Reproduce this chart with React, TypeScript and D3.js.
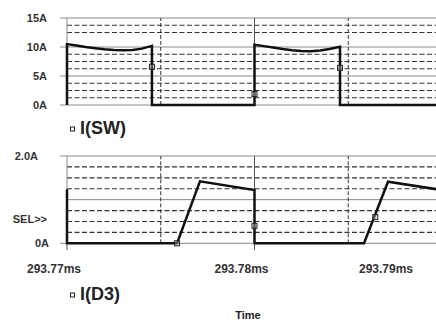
import React from "react";
import * as d3 from "d3";

const W = 436;
const H = 322;

// time in microseconds after 293.77ms
const swTime = [0, 0, 0.5, 1, 1.5, 2, 2.5, 3, 3.5, 4, 4.53, 4.53, 10, 10, 10.5, 11, 11.5, 12, 12.5, 13, 13.5, 14, 14.56, 14.56, 19.7];
const swCurrent = [0, 10.5, 10.25, 10.0, 9.8, 9.62, 9.5, 9.43, 9.48, 9.72, 10.2, 0, 0, 10.4, 10.15, 9.9, 9.65, 9.45, 9.32, 9.28, 9.38, 9.65, 10.05, 0, 0];

const d3Time = [0, 0, 5.87, 7.09, 10.0, 10.0, 15.84, 17.12, 19.7];
const d3Current = [1.24, 0, 0, 1.42, 1.22, 0, 0, 1.41, 1.24];

const swMarkT = [4.53, 10.0, 14.56];
const swMarkV = [6.6, 1.9, 6.4];
const d3MarkT = [5.87, 10.0, 16.44];
const d3MarkV = [0, 0.4, 0.6];

const xTickValues = [0, 10, 20];
const xTickLabels = ["293.77ms", "293.78ms", "293.79ms"];
const xGridSolid = [10];
const xGridDashed = [5, 15];

const topTicks = [15, 10, 5, 0];
const topTickLabels = ["15A", "10A", "5A", "0A"];
const topGridSolid = [15, 10, 5, 0];
const topGridDashed = [13.75, 12.5, 8.75, 7.5, 6.25, 3.75, 2.5, 1.25];

const botTicks = [2, 0];
const botTickLabels = ["2.0A", "0A"];
const botGridSolid = [2, 1, 0];
const botGridDashed = [1.75, 1.5, 1.25, 0.75, 0.5, 0.25];

const FONT = "'Liberation Sans', Arial, sans-serif";

export default function App() {
  const x = d3.scaleLinear().domain([0, 19.68]).range([67, 436]);
  const yTop = d3.scaleLinear().domain([0, 15]).range([105, 18]);
  const yBot = d3.scaleLinear().domain([0, 2]).range([243.3, 156]);

  const swLine = d3
    .line<number>()
    .x((_, i) => x(swTime[i]))
    .y((d) => yTop(d));
  const dLine = d3
    .line<number>()
    .x((_, i) => x(d3Time[i]))
    .y((d) => yBot(d));

  const gridColor = "#8a8a8a";
  const dashColor = "#333";

  const panel = (
    y: d3.ScaleLinear<number, number>,
    solid: number[],
    dashed: number[],
    key: string
  ) => {
    const [y0, y1] = [y.range()[0], y.range()[1]];
    return (
      <g key={key}>
        {dashed.map((v) => (
          <line key={"d" + v} x1={x(0)} x2={W} y1={y(v)} y2={y(v)} stroke={dashColor} strokeWidth={1.2} strokeDasharray="5 2.5" />
        ))}
        {solid.map((v) => (
          <line key={"s" + v} x1={x(0)} x2={W} y1={y(v)} y2={y(v)} stroke={gridColor} strokeWidth={1} />
        ))}
        {xGridDashed.map((v) => (
          <line key={"vd" + v} x1={x(v)} x2={x(v)} y1={y0} y2={y1} stroke={dashColor} strokeWidth={1} strokeDasharray="4 2" />
        ))}
        {xGridSolid.map((v) => (
          <line key={"vs" + v} x1={x(v)} x2={x(v)} y1={y0} y2={y1} stroke="#555" strokeWidth={1} />
        ))}
        <line x1={x(0)} x2={x(0)} y1={y0} y2={y1} stroke={gridColor} strokeWidth={1} />
      </g>
    );
  };

  return (
    <svg width={W} height={H} style={{ position: "absolute", left: 0, top: 0, background: "#fff" }} fontFamily={FONT}>
      <rect x={0} y={0} width={W} height={H} fill="#fff" />
      {panel(yTop, topGridSolid, topGridDashed, "top")}
      {panel(yBot, botGridSolid, botGridDashed, "bot")}

      {/* y ticks */}
      {topTicks.map((v, i) => (
        <g key={"tt" + v}>
          <line x1={60} x2={x(0)} y1={yTop(v)} y2={yTop(v)} stroke={gridColor} strokeWidth={1} />
          <text x={47} y={yTop(v)} dy="0.35em" textAnchor="end" fontSize={11} fontWeight="bold" fill="#333">
            {topTickLabels[i]}
          </text>
        </g>
      ))}
      {botTicks.map((v, i) => (
        <g key={"bt" + v}>
          <line x1={60} x2={x(0)} y1={yBot(v)} y2={yBot(v)} stroke={gridColor} strokeWidth={1} />
          <text x={v === 2 ? 38 : 49} y={yBot(v)} dy="0.35em" textAnchor="end" fontSize={11} fontWeight="bold" fill="#333">
            {botTickLabels[i]}
          </text>
        </g>
      ))}
      <text x={47} y={219} dy="0.35em" textAnchor="end" fontSize={11} fontWeight="bold" fill="#333">
        SEL&gt;&gt;
      </text>

      {/* x ticks */}
      {xTickValues.map((v, i) => (
        <g key={"xt" + v}>
          <line x1={x(v)} x2={x(v)} y1={yBot(0)} y2={250} stroke="#555" strokeWidth={1} />
          <text x={Math.min(x(v) + 14, W - 23)} y={273} textAnchor="end" fontSize={12} fontWeight="bold" fill="#333">
            {xTickLabels[i]}
          </text>
        </g>
      ))}

      {/* traces */}
      <path d={swLine(swCurrent) || ""} fill="none" stroke="#111" strokeWidth={2.5} strokeLinejoin="miter" />
      <path d={dLine(d3Current) || ""} fill="none" stroke="#111" strokeWidth={2.5} strokeLinejoin="miter" />

      {swMarkT.map((t, i) => (
        <rect key={"sm" + i} x={x(t) - 2.5} y={yTop(swMarkV[i]) - 2.5} width={5} height={5} fill="#bbb" fillOpacity={0.4} stroke="#222" strokeWidth={1} />
      ))}
      {d3MarkT.map((t, i) => (
        <rect key={"dm" + i} x={x(t) - 2.5} y={yBot(d3MarkV[i]) - 2.5} width={5} height={5} fill="#bbb" fillOpacity={0.4} stroke="#222" strokeWidth={1} />
      ))}

      {/* legends */}
      <rect x={70.5} y={127} width={4} height={4} fill="none" stroke="#222" strokeWidth={1} />
      <text x={80} y={134} fontSize={18} fontWeight="bold" fill="#222">I(SW)</text>
      <rect x={70.5} y={293} width={4} height={4} fill="none" stroke="#222" strokeWidth={1} />
      <text x={80} y={300} fontSize={18} fontWeight="bold" fill="#222">I(D3)</text>

      <text x={248} y={319} textAnchor="middle" fontSize={11} fontWeight="bold" fill="#222">Time</text>
    </svg>
  );
}
